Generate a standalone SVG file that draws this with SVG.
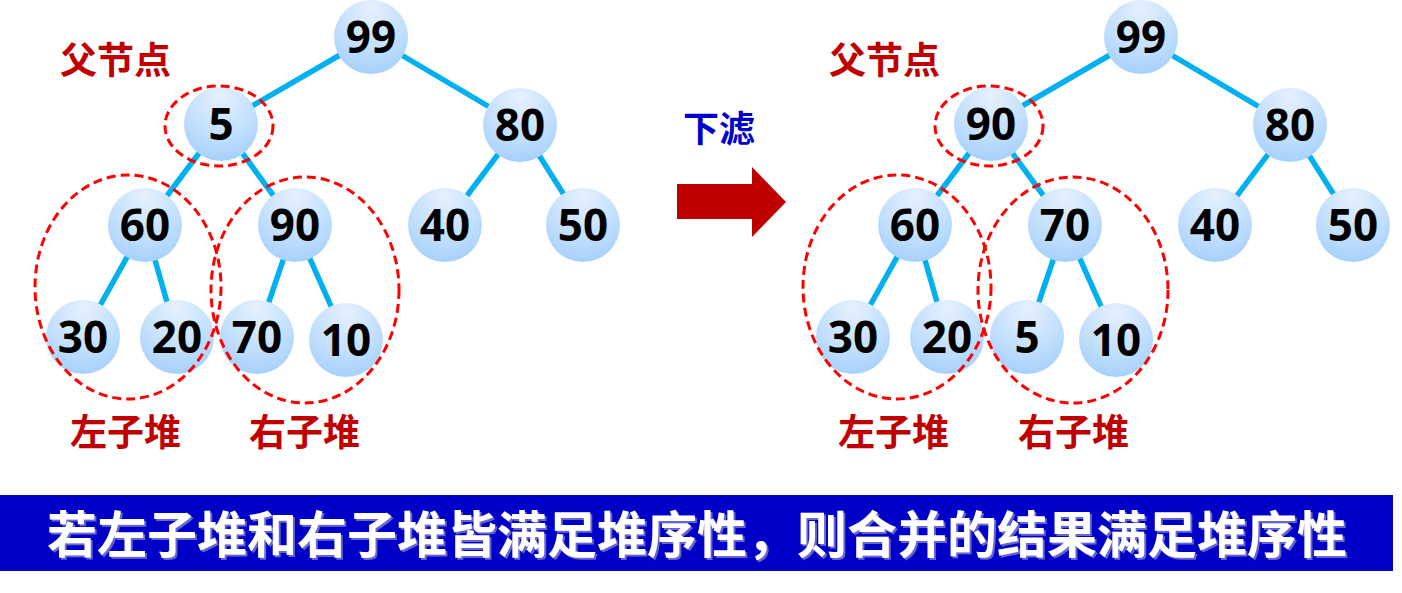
<svg xmlns="http://www.w3.org/2000/svg" width="1402" height="593" viewBox="0 0 1402 593">
<defs>
<radialGradient id="ng" cx="50%" cy="25%" r="75%" fx="50%" fy="10%">
<stop offset="0" stop-color="#E6F1FE"/>
<stop offset="0.6" stop-color="#C4E0FD"/>
<stop offset="1" stop-color="#A6D1FC"/>
</radialGradient>
<filter id="sh" x="-5%" y="-20%" width="110%" height="140%">
<feDropShadow dx="2" dy="2" stdDeviation="0.6" flood-color="#8080D0" flood-opacity="0.8"/>
</filter>
</defs>
<style>
.edge{stroke:#00B0F0;stroke-width:5.5;stroke-linecap:butt}
.node circle{fill:url(#ng)}
.node text{font-family:"Noto Sans","Liberation Sans",sans-serif;font-weight:700;font-size:44px;fill:#000;text-anchor:middle}
.ring{fill:none;stroke:#FF0000;stroke-width:3;stroke-dasharray:9 5}
.lbl{font-family:"Noto Sans CJK SC","Noto Sans",sans-serif;font-weight:700;font-size:37px;fill:#C00000}
.blue{font-family:"Noto Sans CJK SC","Noto Sans",sans-serif;font-weight:700;font-size:36px;fill:#0000CC}
.ban{font-family:"Noto Sans CJK SC","Noto Sans",sans-serif;font-weight:700;font-size:50px;fill:#FFFFFF}
</style>
<rect width="1402" height="593" fill="#FFFFFF"/>

<g id="connectors">
<!-- left tree -->
<line class="edge" x1="371" y1="37" x2="221" y2="124"/>
<line class="edge" x1="371" y1="37" x2="520" y2="125"/>
<line class="edge" x1="221" y1="124" x2="145" y2="225"/>
<line class="edge" x1="221" y1="124" x2="295" y2="225"/>
<line class="edge" x1="520" y1="125" x2="445" y2="225"/>
<line class="edge" x1="520" y1="125" x2="583" y2="225"/>
<line class="edge" x1="145" y1="225" x2="88" y2="327"/>
<line class="edge" x1="145" y1="225" x2="177" y2="337"/>
<line class="edge" x1="295" y1="225" x2="257" y2="337"/>
<line class="edge" x1="295" y1="225" x2="346" y2="340"/>
<!-- right tree -->
<line class="edge" x1="1141" y1="37" x2="991" y2="124"/>
<line class="edge" x1="1141" y1="37" x2="1290" y2="125"/>
<line class="edge" x1="991" y1="124" x2="915" y2="225"/>
<line class="edge" x1="991" y1="124" x2="1065" y2="225"/>
<line class="edge" x1="1290" y1="125" x2="1215" y2="225"/>
<line class="edge" x1="1290" y1="125" x2="1353" y2="225"/>
<line class="edge" x1="915" y1="225" x2="858" y2="327"/>
<line class="edge" x1="915" y1="225" x2="947" y2="337"/>
<line class="edge" x1="1065" y1="225" x2="1027" y2="337"/>
<line class="edge" x1="1065" y1="225" x2="1116" y2="340"/>
</g>

<!-- left tree nodes -->
<g id="L99" class="node"><circle cx="371" cy="37" r="37"/><text x="371" y="53">99</text></g>
<g id="L5" class="node"><circle cx="221" cy="124" r="37"/><text x="221" y="140">5</text></g>
<g id="L80" class="node"><circle cx="520" cy="125" r="37"/><text x="520" y="141">80</text></g>
<g id="L60" class="node"><circle cx="145" cy="225" r="37"/><text x="145" y="241">60</text></g>
<g id="L90" class="node"><circle cx="295" cy="225" r="37"/><text x="295" y="241">90</text></g>
<g id="L40" class="node"><circle cx="445" cy="225" r="37"/><text x="445" y="241">40</text></g>
<g id="L50" class="node"><circle cx="583" cy="225" r="37"/><text x="583" y="241">50</text></g>
<g id="L30" class="node"><circle cx="83" cy="337" r="37"/><text x="83" y="353">30</text></g>
<g id="L20" class="node"><circle cx="177" cy="337" r="37"/><text x="177" y="353">20</text></g>
<g id="L70" class="node"><circle cx="257" cy="337" r="37"/><text x="257" y="353">70</text></g>
<g id="L10" class="node"><circle cx="346" cy="340" r="37"/><text x="346" y="356">10</text></g>

<!-- right tree nodes -->
<g id="R99" class="node"><circle cx="1141" cy="37" r="37"/><text x="1141" y="53">99</text></g>
<g id="R90" class="node"><circle cx="991" cy="124" r="37"/><text x="991" y="140">90</text></g>
<g id="R80" class="node"><circle cx="1290" cy="125" r="37"/><text x="1290" y="141">80</text></g>
<g id="R60" class="node"><circle cx="915" cy="225" r="37"/><text x="915" y="241">60</text></g>
<g id="R70" class="node"><circle cx="1065" cy="225" r="37"/><text x="1065" y="241">70</text></g>
<g id="R40" class="node"><circle cx="1215" cy="225" r="37"/><text x="1215" y="241">40</text></g>
<g id="R50" class="node"><circle cx="1353" cy="225" r="37"/><text x="1353" y="241">50</text></g>
<g id="R30" class="node"><circle cx="853" cy="337" r="37"/><text x="853" y="353">30</text></g>
<g id="R20" class="node"><circle cx="947" cy="337" r="37"/><text x="947" y="353">20</text></g>
<g id="R5" class="node"><circle cx="1027" cy="337" r="37"/><text x="1027" y="353">5</text></g>
<g id="R10" class="node"><circle cx="1116" cy="340" r="37"/><text x="1116" y="356">10</text></g>

<!-- dashed rings -->
<g id="rings">
<ellipse class="ring" cx="219" cy="126" rx="54" ry="40"/>
<ellipse class="ring" cx="128" cy="287" rx="93" ry="112"/>
<ellipse class="ring" cx="305" cy="290" rx="94" ry="113"/>
<ellipse class="ring" cx="989" cy="126" rx="54" ry="40"/>
<ellipse class="ring" cx="897" cy="287" rx="94" ry="112"/>
<ellipse class="ring" cx="1073" cy="290" rx="95" ry="113"/>
</g>

<!-- labels -->
<g id="labels">
<text class="lbl" x="60" y="74">父节点</text>
<text class="lbl" x="70" y="446">左子堆</text>
<text class="lbl" x="249" y="446">右子堆</text>
<text class="lbl" x="829" y="74">父节点</text>
<text class="lbl" x="838" y="446">左子堆</text>
<text class="lbl" x="1018" y="446">右子堆</text>
</g>

<g id="arrow">
<text class="blue" x="683" y="142">下滤</text>
<polygon points="677,184 752,184 752,167 786,202 752,237 752,219 677,219" fill="#C00000"/>
</g>

<g id="banner">
<rect x="0" y="495" width="1393" height="76" fill="#0000C8"/>
<text class="ban" x="47" y="553" filter="url(#sh)">若左子堆和右子堆皆满足堆序性，则合并的结果满足堆序性</text>
</g>
</svg>
